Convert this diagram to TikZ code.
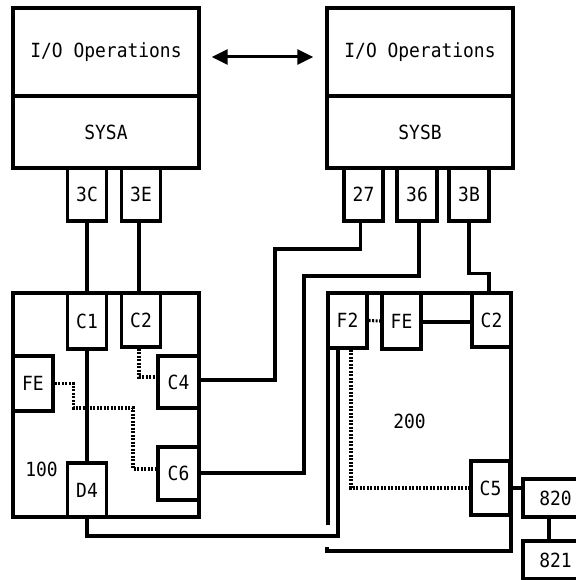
\documentclass[tikz,border=0pt]{standalone}
\usepackage{fontspec}
\setmainfont[FakeStretch=0.92]{DejaVu Sans Mono}
\usetikzlibrary{arrows.meta}
\begin{document}
\begin{tikzpicture}[x=1pt,y=-1pt,
 box/.style={draw,line width=3.3pt,inner sep=0pt,font=\fontsize{19.5}{22}\selectfont},
 wire/.style={line width=3.1pt},
 dotline/.style={line width=3.1pt,dash pattern=on 2pt off 1.5pt},
 lbl/.style={font=\fontsize{19.5}{22}\selectfont,inner sep=0pt}]
\useasboundingbox[fill=white] (0,0) rectangle (575,580);
% systems
\node[box,minimum width=186,minimum height=88] (iopA) at (106,52) {I/O Operations};
\node[box,minimum width=186,minimum height=72] (sysA) at (106,132) {SYSA};
\node[box,minimum width=186,minimum height=88] (iopB) at (420,52) {I/O Operations};
\node[box,minimum width=186,minimum height=72] (sysB) at (420,132) {SYSB};
\draw[line width=3pt,{Triangle[length=16pt,width=15pt]}-{Triangle[length=16pt,width=15pt]}]
  ([xshift=11pt,yshift=-5pt]iopA.east) -- ([xshift=-12pt,yshift=-5pt]iopB.west);
% ports
\node[box,minimum width=39,minimum height=53] (p3C) at (87,194.5) {3C};
\node[box,minimum width=39,minimum height=53] (p3E) at (141,194.5) {3E};
\node[box,minimum width=39,minimum height=53] (p27) at (363.5,194.5) {27};
\node[box,minimum width=40,minimum height=53] (p36) at (417,194.5) {36};
\node[box,minimum width=40,minimum height=53] (p3B) at (469,194.5) {3B};
% box 100
\node[box,minimum width=186,minimum height=224] (b100) at (106,405) {};
\node[lbl] (l100) at (41.5,469) {100};
\node[box,minimum width=39,minimum height=56] (C1) at (87,321) {C1};
\node[box,minimum width=39,minimum height=54] (C2a) at (141,320) {C2};
\node[box,minimum width=40,minimum height=55] (FEa) at (33,383.5) {FE};
\node[box,minimum width=41,minimum height=52] (C4) at (178.5,382) {C4};
\node[box,minimum width=41,minimum height=53] (C6) at (178.5,473.5) {C6};
\node[box,minimum width=39,minimum height=54] (D4) at (87,490) {D4};
% box 200
\draw[wire] (328,525) -- (328,293) -- (511,293) -- (511,551) -- (327,551) -- (327,547);
\node[lbl] (l200) at (409.5,421) {200};
\node[box,minimum width=39,minimum height=55] (F2) at (347.5,320.5) {F2};
\node[box,minimum width=39,minimum height=56] (FEb) at (401.5,321) {FE};
\node[box,minimum width=39,minimum height=54] (C2b) at (491.5,320) {C2};
\node[box,minimum width=39,minimum height=54] (C5) at (490.5,488) {C5};
\node[box,minimum width=65,minimum height=38] (n820) at (555.5,498) {820};
\node[box,minimum width=65,minimum height=38] (n821) at (555.5,560) {821};
% connectors
\draw[wire] (p3C.south) -- (C1.north);
\draw[wire] ([xshift=-2pt]p3E.south) -- ([xshift=-2pt]C2a.north);
\draw[wire] (C1.south) -- (D4.north);
\draw[dotline] ([xshift=-2pt]C2a.south) |- ([yshift=5pt]C4.west);
\draw[dotline] (FEa.east) -- ++(19,0) |- (133,408) |- ([yshift=4.5pt]C6.west);
\draw[wire] ([xshift=-3pt]p27.south) |- (275,249) |- ([yshift=2pt]C4.east);
\draw[wire] ([xshift=2pt]p36.south) |- (304,276) |- ([yshift=0.5pt]C6.east);
\draw[wire] (p3B.south) -- ++(0,51) -| ([xshift=-2.5pt]C2b.north);
\draw[wire] (D4.south) |- (338,536) -- ([xshift=-9.5pt]F2.south);
\draw[dotline] (F2.east) -- (FEb.west);
\draw[wire] ([yshift=-1pt]FEb.east) -- ([yshift=-1pt]FEb.east -| C2b.west);
\draw[dotline] ([xshift=3.5pt]F2.south) |- (C5.west);
\draw[wire] (C5.east) -- (C5.east -| n820.west);
\draw[wire] ([xshift=-6.5pt]n820.south) -- ([xshift=-6.5pt]n821.north);
\end{tikzpicture}
\end{document}
